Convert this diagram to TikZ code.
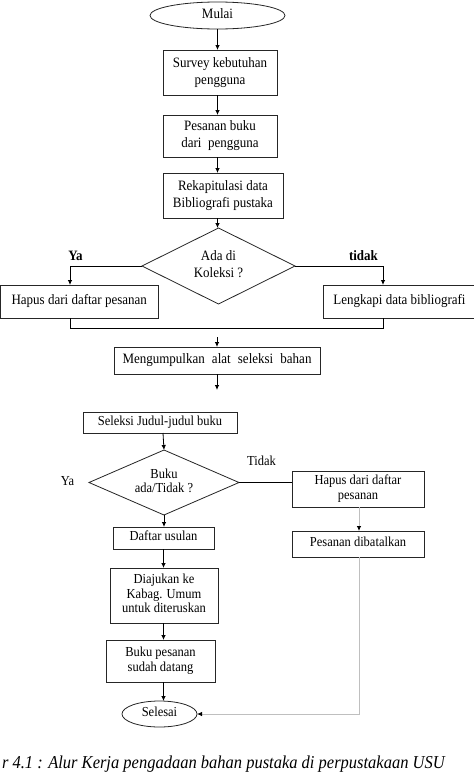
\documentclass[tikz,border=0pt]{standalone}
\usepackage{fontspec}
\usepackage{graphicx}
\setmainfont{Liberation Serif}
\usetikzlibrary{shapes.geometric,arrows.meta}
\newcommand\tx[1]{\scalebox{1}[1.1]{\begin{tabular}{@{}c@{}}#1\end{tabular}}}
\begin{document}
\begin{tikzpicture}[x=1pt,y=-1pt,
  line width=0.8pt,
  every node/.style={inner sep=0pt, outer sep=0pt, align=center},
  bigtxt/.style={font=\fontsize{13}{15.5}\selectfont},
  smalltxt/.style={font=\fontsize{12.5}{13.2}\selectfont},
  procbox/.style={draw=black!85, rectangle},
  termin/.style={draw=black!85, ellipse},
  decis/.style={draw=black!85, diamond},
  arr/.style={-{Latex[length=5pt,width=4.5pt]}},
  greyarr/.style={draw=black!25, -{Latex[length=5pt,width=4.5pt,black]}},
  lbl/.style={font=\fontsize{13}{15}\selectfont}
]
\useasboundingbox (0,0) rectangle (474,774);
\clip (0,0) rectangle (474,774);
\fill[white] (0,0) rectangle (474,774);

% upper part
\node[termin, bigtxt, minimum width=135pt, minimum height=27pt] (mulai) at (217.5,15.5) {\tx{Mulai}};
\node[procbox, bigtxt, minimum width=114pt, minimum height=45pt] (s1) at (220,72.5) {\tx{Survey kebutuhan\\pengguna}};
\node[procbox, bigtxt, minimum width=114pt, minimum height=42pt] (s2) at (220,136) {\tx{Pesanan buku\\dari\ \ pengguna}};
\node[procbox, bigtxt, minimum width=120pt, minimum height=45pt] (s3) at (223,195.5) {\tx{Rekapitulasi data\\Bibliografi pustaka}};
\node[decis, bigtxt, shape aspect=2, minimum width=153pt, minimum height=76pt] (d1) at (218.5,266) {\tx{Ada di\\Koleksi ?}};
\node[lbl, font=\fontsize{13}{15}\selectfont\bfseries] (ya1) at (75.5,257) {\tx{Ya}};
\node[lbl, font=\fontsize{13}{15}\selectfont\bfseries] (tidak1) at (363.5,257) {\tx{tidak}};
\node[procbox, bigtxt, minimum width=157.5pt, minimum height=33pt] (h1) at (79.25,301.5) {\tx{Hapus dari daftar pesanan}};
\node[procbox, bigtxt, minimum width=153pt, minimum height=33pt] (lk) at (399.5,301.5) {\tx{Lengkapi data bibliografi}};
\node[procbox, bigtxt, minimum width=206pt, minimum height=27pt] (m1) at (217,360.5) {\tx{\makebox[189pt][s]{Mengumpulkan alat seleksi bahan}}};
\coordinate (m1end) at (217,390);

\draw[arr] (mulai.south) -- (mulai.south |- s1.north);
\draw[arr] (s1.south -| mulai.south) -- (mulai.south |- s2.north);
\draw[arr] (s2.south -| mulai.south) -- (mulai.south |- s3.north);
\draw[arr] (s3.south -| mulai.south) -- (mulai.south |- d1.north);
\draw[arr] (d1.west) -| ([xshift=-9.25pt]h1.north);
\draw[arr] (d1.east) -| ([xshift=-16.5pt]lk.north);
\draw ([xshift=-9.25pt]h1.south) -- ++(0,10) -| ([xshift=-16.5pt]lk.south);
\draw[arr] ([yshift=10pt]m1.north) -- (m1.north);
\draw[arr] (m1.south) -- (m1end);

% lower part
\node[procbox, smalltxt, minimum width=154pt, minimum height=21pt] (sel) at (160,422.5) {\tx{Seleksi Judul-judul buku}};
\node[decis, smalltxt, shape aspect=2.3, minimum width=150pt, minimum height=65pt] (d2) at (164,482.5) {\tx{Buku\\ada/Tidak ?}};
\node[smalltxt] (ya2) at (67.5,483) {\tx{Ya}};
\node[smalltxt] (tidak2) at (261.5,463) {\tx{Tidak}};
\node[procbox, smalltxt, minimum width=132pt, minimum height=36pt] (h2) at (358,489) {\tx{Hapus dari daftar\\pesanan}};
\node[procbox, smalltxt, minimum width=132pt, minimum height=26pt] (p2) at (358,544) {\tx{Pesanan dibatalkan}};
\node[procbox, smalltxt, minimum width=101pt, minimum height=22pt] (du) at (163.5,538) {\tx{Daftar usulan}};
\node[procbox, smalltxt, minimum width=108pt, minimum height=55pt] (dj) at (164,595.5) {\tx{Diajukan ke\\Kabag. Umum\\untuk diteruskan}};
\node[procbox, smalltxt, minimum width=109pt, minimum height=42pt] (bp) at (160.5,661) {\tx{Buku pesanan\\sudah datang}};
\node[termin, smalltxt, minimum width=75pt, minimum height=26pt] (sls) at (159.5,714) {\tx{Selesai}};

\draw[arr] ([xshift=3pt]sel.south) -- (d2.north);
\draw (d2.east) -- (d2.east -| h2.west);
\draw[arr] (d2.south) -- (d2.south |- du.north);
\draw[arr] (du.south) -- (du.south |- dj.north);
\draw[arr] (dj.south -| du.south) -- (du.south |- bp.north);
\draw[arr] (bp.south -| du.south) -- (du.south |- sls.north);
\draw[greyarr] ([xshift=1pt]h2.south) -- ([xshift=1pt]p2.north);
\draw[greyarr] ([xshift=1pt]p2.south) |- (sls.east);

% caption
\node[anchor=base west, font=\fontsize{16.5}{18}\selectfont\itshape] (cap) at (2,768) {\scalebox{1}[1.1]{r 4.1 : Alur Kerja pengadaan bahan pustaka di perpustakaan USU}};
\end{tikzpicture}
\end{document}
